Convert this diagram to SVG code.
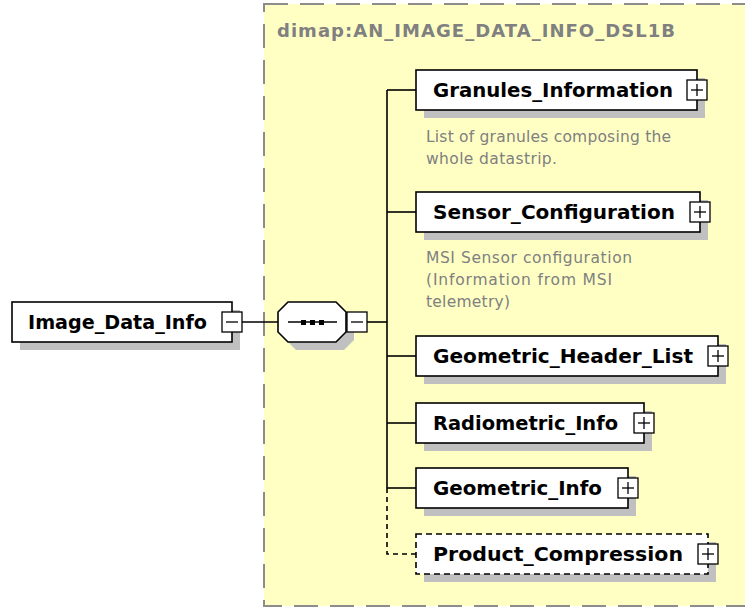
<svg xmlns="http://www.w3.org/2000/svg" width="745" height="607" viewBox="0 0 745 607">
<style>
.bg{fill:#fff}
.frame{fill:#ffffc4;stroke:#8c8c8c;stroke-width:2;stroke-dasharray:24 12}
.shadow{fill:#c0c0c0}
.box{fill:#fff;stroke:#000;stroke-width:1.6}
.opt{fill:#fff;stroke:#000;stroke-width:1.6;stroke-dasharray:6 4}
.pm{fill:#fff;stroke:#000;stroke-width:1.3}
.pmline{stroke:#000;stroke-width:1.3}
.name{font-family:"DejaVu Sans",Verdana,sans-serif;font-weight:bold;font-size:20px;fill:#000}
.title{font-family:"DejaVu Sans",Verdana,sans-serif;font-weight:bold;font-size:18px;fill:#808080}
.doc{font-family:"DejaVu Sans",Verdana,sans-serif;font-size:15.5px;fill:#808080}
.conn{stroke:#000;stroke-width:1.6;fill:none}
.dash{stroke:#000;stroke-width:1.6;fill:none;stroke-dasharray:5 4}
</style>
<rect class="bg" x="0" y="0" width="745" height="607"/>
<g id="type_frame">
<rect class="frame" x="264" y="4" width="500" height="602"/>
<text class="title" x="277" y="37" textLength="398" lengthAdjust="spacing">dimap:AN_IMAGE_DATA_INFO_DSL1B</text>
</g>
<g id="connectors">
<line class="conn" x1="242" y1="322" x2="278" y2="322"/>
<line class="conn" x1="367" y1="322" x2="387" y2="322"/>
<line class="conn" x1="387" y1="90" x2="387" y2="488"/>
<line class="conn" x1="387" y1="90" x2="416" y2="90"/>
<line class="conn" x1="387" y1="212" x2="416" y2="212"/>
<line class="conn" x1="387" y1="356" x2="416" y2="356"/>
<line class="conn" x1="387" y1="423" x2="416" y2="423"/>
<line class="conn" x1="387" y1="488" x2="416" y2="488"/>
<polyline class="dash" points="387,488 387,554 416,554"/>
</g>
<g id="Image_Data_Info">
<rect class="shadow" x="20" y="310" width="220" height="40"/>
<rect class="box" x="12" y="302" width="220" height="40"/>
<text class="name" x="28" y="329" textLength="179" lengthAdjust="spacingAndGlyphs">Image_Data_Info</text>
<rect class="pm" x="222" y="312" width="20" height="20"/>
<line class="pmline" x1="226" y1="322" x2="238" y2="322"/>
</g>
<g id="sequence">
<polygon class="shadow" points="296,310 344,310 354,320 354,340 344,350 296,350 286,340 286,320"/>
<polygon class="box" points="288,302 336,302 346,312 346,332 336,342 288,342 278,332 278,312"/>
<line class="conn" x1="288" y1="322" x2="337" y2="322"/>
<rect x="301" y="320" width="5" height="5" fill="#000"/>
<rect x="310" y="320" width="5" height="5" fill="#000"/>
<rect x="319" y="320" width="5" height="5" fill="#000"/>
<rect class="pm" x="347" y="312" width="20" height="20"/>
<line class="pmline" x1="351" y1="322" x2="363" y2="322"/>
</g>
<g id="Granules_Information">
<rect class="shadow" x="424" y="78" width="281" height="40"/>
<rect class="box" x="416" y="70" width="281" height="40"/>
<text class="name" x="433" y="97" textLength="240" lengthAdjust="spacingAndGlyphs">Granules_Information</text>
<rect class="pm" x="687" y="80" width="20" height="20"/>
<line class="pmline" x1="691" y1="90" x2="703" y2="90"/>
<line class="pmline" x1="697" y1="84" x2="697" y2="96"/>
<text class="doc" x="426" y="142" textLength="245" lengthAdjust="spacing">List of granules composing the</text>
<text class="doc" x="426" y="164" textLength="131" lengthAdjust="spacing">whole datastrip.</text>
</g>
<g id="Sensor_Configuration">
<rect class="shadow" x="424" y="200" width="284" height="40"/>
<rect class="box" x="416" y="192" width="284" height="40"/>
<text class="name" x="433" y="219" textLength="242" lengthAdjust="spacingAndGlyphs">Sensor_Configuration</text>
<rect class="pm" x="690" y="202" width="20" height="20"/>
<line class="pmline" x1="694" y1="212" x2="706" y2="212"/>
<line class="pmline" x1="700" y1="206" x2="700" y2="218"/>
<text class="doc" x="426" y="263" textLength="206" lengthAdjust="spacing">MSI Sensor configuration</text>
<text class="doc" x="426" y="285" textLength="186" lengthAdjust="spacing">(Information from MSI</text>
<text class="doc" x="426" y="307" textLength="84" lengthAdjust="spacing">telemetry)</text>
</g>
<g id="Geometric_Header_List">
<rect class="shadow" x="424" y="344" width="302" height="40"/>
<rect class="box" x="416" y="336" width="302" height="40"/>
<text class="name" x="433" y="363" textLength="260" lengthAdjust="spacingAndGlyphs">Geometric_Header_List</text>
<rect class="pm" x="708" y="346" width="20" height="20"/>
<line class="pmline" x1="712" y1="356" x2="724" y2="356"/>
<line class="pmline" x1="718" y1="350" x2="718" y2="362"/>
</g>
<g id="Radiometric_Info">
<rect class="shadow" x="424" y="411" width="228" height="40"/>
<rect class="box" x="416" y="403" width="228" height="40"/>
<text class="name" x="433" y="430" textLength="185" lengthAdjust="spacingAndGlyphs">Radiometric_Info</text>
<rect class="pm" x="634" y="413" width="20" height="20"/>
<line class="pmline" x1="638" y1="423" x2="650" y2="423"/>
<line class="pmline" x1="644" y1="417" x2="644" y2="429"/>
</g>
<g id="Geometric_Info">
<rect class="shadow" x="424" y="476" width="212" height="40"/>
<rect class="box" x="416" y="468" width="212" height="40"/>
<text class="name" x="433" y="495" textLength="169" lengthAdjust="spacingAndGlyphs">Geometric_Info</text>
<rect class="pm" x="618" y="478" width="20" height="20"/>
<line class="pmline" x1="622" y1="488" x2="634" y2="488"/>
<line class="pmline" x1="628" y1="482" x2="628" y2="494"/>
</g>
<g id="Product_Compression">
<rect class="shadow" x="424" y="542" width="292" height="40"/>
<rect class="opt" x="416" y="534" width="292" height="40"/>
<text class="name" x="433" y="561" textLength="250" lengthAdjust="spacingAndGlyphs">Product_Compression</text>
<rect class="pm" x="698" y="544" width="20" height="20"/>
<line class="pmline" x1="702" y1="554" x2="714" y2="554"/>
<line class="pmline" x1="708" y1="548" x2="708" y2="560"/>
</g>
</svg>
